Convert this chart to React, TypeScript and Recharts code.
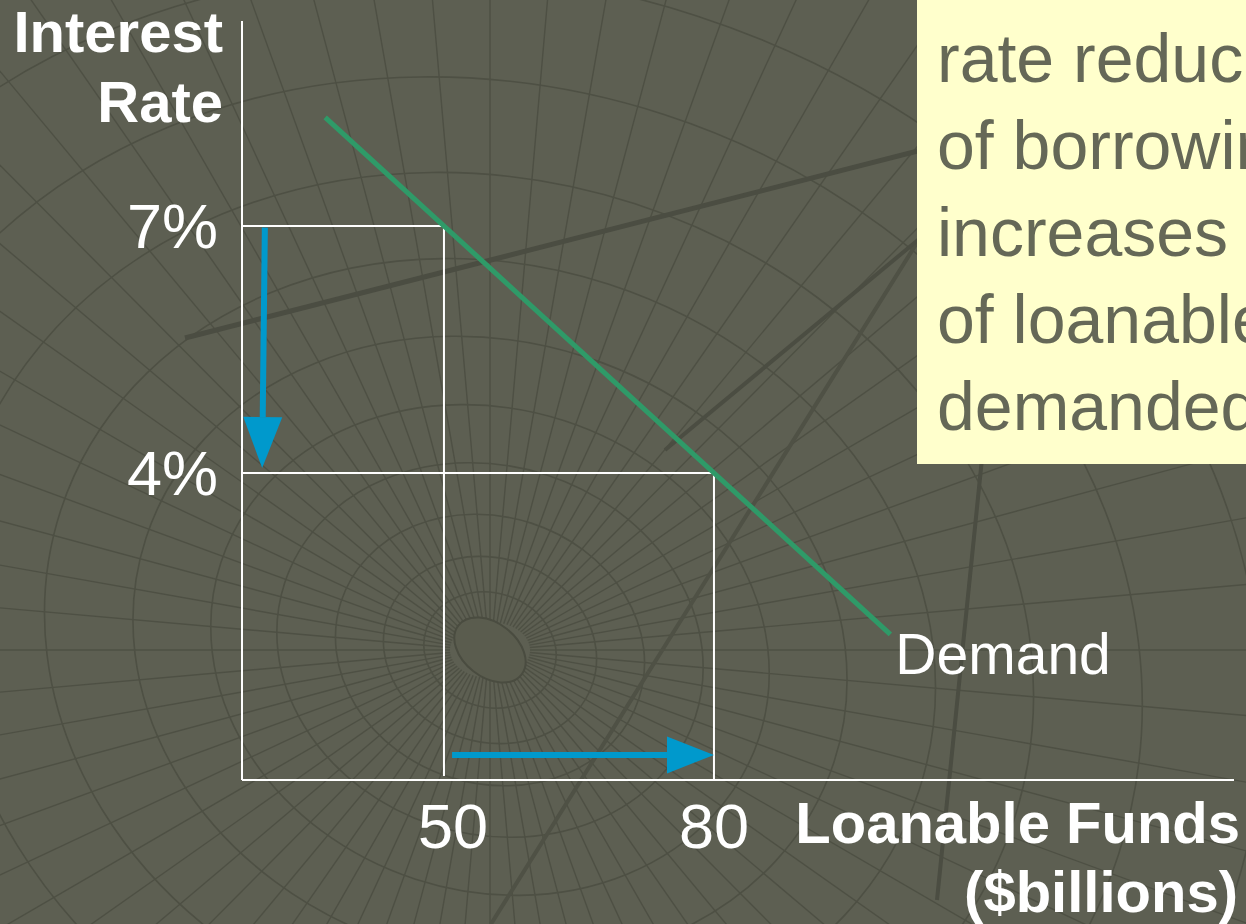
import React from 'react';
import { ComposedChart, XAxis, YAxis, Line, ReferenceLine, ReferenceDot, Label } from 'recharts';

// ---- data ----
const quantityTicks = [50, 80];
const rateTicks = [4, 7];
const demandCurve = [
  { x: 36.8, y: 8.32 },
  { x: 99.6, y: 2.04 },
];
const initialPoint = { x: 50, y: 7 };
const newPoint = { x: 80, y: 4 };
const rateArrow = [
  { x: 30.1, y: 6.98 },
  { x: 29.8, y: 4.06 },
];
const quantityArrow = [
  { x: 50.9, y: 0.575 },
  { x: 80, y: 0.575 },
];
const xDomain = [27.56, 137.78];
const yDomain = [0.27, 9.49];
const noteLines = [
  'rate reduces the cost',
  'of borrowing and',
  'increases the quantity',
  'of loanable funds',
  'demanded.',
];

const FONT = '"Liberation Sans", Arial, Helvetica, sans-serif';
const BG = '#5d5f52';
const GRID = '#4e5044';
const GREEN = '#2f9a68';
const BLUE = '#0099cc';

const W = 1246;
const H = 924;

function Background() {
  const cx = 490;
  const cy = 650;
  const rings = [62, 100, 145, 200, 262, 335, 418, 510, 612, 725, 850, 990];
  const angles: number[] = [];
  for (let a = 0; a < 360; a += 5) angles.push(a);
  return (
    <svg width={W} height={H} style={{ position: 'absolute', left: 0, top: 0 }}>
      <rect x={0} y={0} width={W} height={H} fill={BG} />
      {angles.map((a) => {
        const r = (a * Math.PI) / 180;
        return (
          <line
            key={a}
            x1={cx + 40 * Math.cos(r)}
            y1={cy + 28 * Math.sin(r)}
            x2={cx + 1700 * Math.cos(r)}
            y2={cy + 1700 * Math.sin(r)}
            stroke={GRID}
            strokeWidth={1.4}
          />
        );
      })}
      {rings.map((r) => (
        <ellipse
          key={r}
          cx={cx}
          cy={cy}
          rx={r * 1.08}
          ry={r * 0.92}
          transform={`rotate(18 ${cx} ${cy})`}
          fill="none"
          stroke={GRID}
          strokeWidth={1.6}
        />
      ))}
      <ellipse cx={cx} cy={cy} rx={40} ry={27} transform={`rotate(38 ${cx} ${cy})`} fill="#5a5c4e" stroke="#4a4c40" strokeWidth={2} />
      <line x1={185} y1={338} x2={1000} y2={130} stroke="#4b4d42" strokeWidth={5} />
      <line x1={1000} y1={110} x2={491} y2={924} stroke="#4f5145" strokeWidth={4} />
      <line x1={665} y1={450} x2={930} y2={230} stroke="#4b4d42" strokeWidth={4} />
      <line x1={990} y1={380} x2={937} y2={900} stroke="#4b4d42" strokeWidth={4} />
    </svg>
  );
}

function Arrow(props: any) {
  const { x1, y1, x2, y2, headLen, headHalf } = props;
  const dx = x2 - x1;
  const dy = y2 - y1;
  const len = Math.sqrt(dx * dx + dy * dy) || 1;
  const ux = dx / len;
  const uy = dy / len;
  const bx = x2 - ux * headLen;
  const by = y2 - uy * headLen;
  const px = -uy;
  const py = ux;
  return (
    <g>
      <line x1={x1} y1={y1} x2={bx} y2={by} stroke={BLUE} strokeWidth={6} />
      <polygon
        points={`${x2},${y2} ${bx + px * headHalf},${by + py * headHalf} ${bx - px * headHalf},${by - py * headHalf}`}
        fill={BLUE}
      />
    </g>
  );
}

function YTick(props: any) {
  const { x, y, payload } = props;
  return (
    <text x={x - 24} y={y + 22} textAnchor="end" fill="#ffffff" fontSize={63} fontFamily={FONT}>
      {`${payload.value}%`}
    </text>
  );
}

function XTick(props: any) {
  const { x, y, payload } = props;
  return (
    <text x={x + (payload.value === 50 ? 9 : 0)} y={y + 68} textAnchor="middle" fill="#ffffff" fontSize={63} fontFamily={FONT}>
      {payload.value}
    </text>
  );
}

function YTitle() {
  return (
    <g>
      <text x={223} y={52} textAnchor="end" fill="#ffffff" fontSize={58} fontWeight="bold" fontFamily={FONT}>
        Interest
      </text>
      <text x={223} y={122} textAnchor="end" fill="#ffffff" fontSize={58} fontWeight="bold" fontFamily={FONT}>
        Rate
      </text>
    </g>
  );
}

function XTitle() {
  return (
    <g>
      <text x={1240} y={843} textAnchor="end" fill="#ffffff" fontSize={58} fontWeight="bold" fontFamily={FONT}>
        Loanable Funds
      </text>
      <text x={1238} y={912} textAnchor="end" fill="#ffffff" fontSize={58} fontWeight="bold" fontFamily={FONT}>
        ($billions)
      </text>
    </g>
  );
}

function DemandLabel(props: any) {
  const { viewBox } = props;
  const x = viewBox ? viewBox.x : 0;
  const y = viewBox ? viewBox.y : 0;
  return (
    <text x={x + 5} y={y + 40} fill="#ffffff" fontSize={57} fontFamily={FONT}>
      Demand
    </text>
  );
}

function NoteBox() {
  return (
    <svg width={W} height={H} style={{ position: 'absolute', left: 0, top: 0, pointerEvents: 'none' }}>
      <defs>
        <clipPath id="noteClip">
          <rect x={917} y={0} width={329} height={464} />
        </clipPath>
      </defs>
      <rect x={917} y={0} width={329} height={464} fill="#ffffcc" />
      <g clipPath="url(#noteClip)">
        {noteLines.map((t, i) => (
          <text key={i} x={937} y={82 + i * 87} fill="#656857" fontSize={68} fontFamily={FONT}>
            {t}
          </text>
        ))}
      </g>
    </svg>
  );
}

export default function App() {
  const demandEnd = demandCurve[demandCurve.length - 1];
  return (
    <div style={{ position: 'absolute', left: 0, top: 0, width: W, height: H, overflow: 'hidden', background: BG }}>
      <Background />
      <div style={{ position: 'absolute', left: 0, top: 0 }}>
        <ComposedChart
          width={W}
          height={H}
          data={demandCurve}
          margin={{ top: 21, right: 12, bottom: 114, left: 182 }}
        >
          <XAxis
            type="number"
            dataKey="x"
            domain={xDomain}
            ticks={quantityTicks}
            allowDataOverflow
            height={30}
            tickSize={0}
            tickMargin={0}
            tickLine={false}
            axisLine={{ stroke: '#ffffff', strokeWidth: 2 }}
            tick={<XTick />}
          >
            <Label content={<XTitle />} />
          </XAxis>
          <YAxis
            type="number"
            domain={yDomain}
            ticks={rateTicks}
            allowDataOverflow
            width={60}
            tickSize={0}
            tickMargin={0}
            tickLine={false}
            axisLine={{ stroke: '#ffffff', strokeWidth: 2 }}
            tick={<YTick />}
          >
            <Label content={<YTitle />} />
          </YAxis>
          <ReferenceLine
            segment={[{ x: xDomain[0], y: initialPoint.y }, initialPoint]}
            stroke="#ffffff"
            strokeWidth={2}
            ifOverflow="visible"
          />
          <ReferenceLine
            segment={[initialPoint, { x: initialPoint.x, y: 0.32 }]}
            stroke="#ffffff"
            strokeWidth={2}
            ifOverflow="visible"
          />
          <ReferenceLine
            segment={[{ x: xDomain[0], y: newPoint.y }, newPoint]}
            stroke="#ffffff"
            strokeWidth={2}
            ifOverflow="visible"
          />
          <ReferenceLine
            segment={[newPoint, { x: newPoint.x, y: yDomain[0] }]}
            stroke="#ffffff"
            strokeWidth={2}
            ifOverflow="visible"
          />
          <Line
            type="linear"
            dataKey="y"
            stroke={GREEN}
            strokeWidth={5}
            dot={false}
            activeDot={false}
            isAnimationActive={false}
          />
          <ReferenceLine
            segment={rateArrow}
            ifOverflow="visible"
            shape={(p: any) => <Arrow {...p} headLen={51} headHalf={19.5} />}
          />
          <ReferenceLine
            segment={quantityArrow}
            ifOverflow="visible"
            shape={(p: any) => <Arrow {...p} headLen={47} headHalf={18.5} />}
          />
          <ReferenceDot
            x={demandEnd.x}
            y={demandEnd.y}
            r={0}
            fill="none"
            stroke="none"
            ifOverflow="visible"
            label={<DemandLabel />}
          />
        </ComposedChart>
      </div>
      <NoteBox />
    </div>
  );
}
